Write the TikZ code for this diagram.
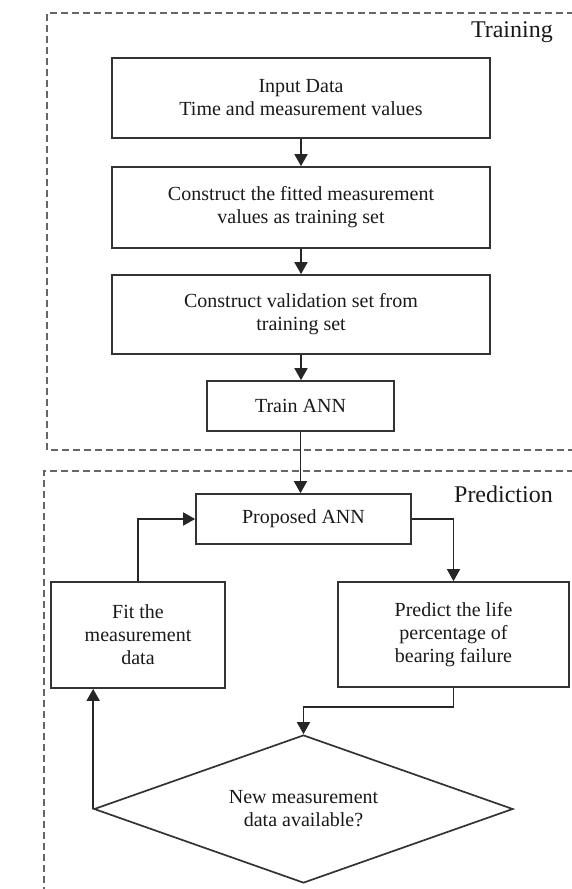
\documentclass[tikz,border=0pt]{standalone}
\usepackage{fontspec}
\setmainfont{Liberation Serif}
\usetikzlibrary{shapes.geometric,arrows.meta}
\begin{document}
\begin{tikzpicture}[x=1pt,y=-1pt,
  box/.style={draw=black!80,line width=1.7pt,align=center,inner sep=2pt,
    font=\fontsize{20}{23}\selectfont,text=black!90},
  frame/.style={draw=black!60,line width=1.1pt,dash pattern=on 7pt off 4pt},
  arr/.style={draw=black!85,line width=1.7pt,-{Triangle[length=12pt,width=13pt]}},
  lbl/.style={font=\fontsize{24}{28}\selectfont,text=black!90,inner sep=0pt}]
\useasboundingbox (0,0) rectangle (571,889);
% frames
\draw[frame] (585,13) -- (47,13) -- (47,450) -- (585,450);
\draw[frame] (585,471) -- (44,471) -- (44,900);
\node[lbl,anchor=base east] (tlab) at (553,37) {Training};
\node[lbl,anchor=base east] (plab) at (553,502) {Prediction};
% training nodes
\node[box,minimum width=378pt,minimum height=80pt] (in) at (301,98) {Input Data\\Time and measurement values};
\node[box,minimum width=378pt,minimum height=81pt] (fit) at (301,207.5) {Construct the fitted measurement\\values as training set};
\node[box,minimum width=378pt,minimum height=79pt] (val) at (301,314.5) {Construct validation set from\\training set};
\node[box,minimum width=187pt,minimum height=50pt] (train) at (300.5,406) {Train ANN};
% prediction nodes
\node[box,minimum width=215pt,minimum height=50pt] (prop) at (303.5,519) {Proposed ANN};
\node[box,minimum width=174pt,minimum height=106pt] (fitm) at (138,635) {Fit the\\measurement\\data};
\node[box,minimum width=231pt,minimum height=105pt] (pred) at (453.5,634.5) {Predict the life\\percentage of\\bearing failure};
\node[box,shape=diamond,aspect=2.83,inner sep=0pt,minimum width=419pt,minimum height=148pt] (dec) at (303.5,809) {New measurement\\data available?};
% connectors
\draw[arr] (in.south) -- (fit.north);
\draw[arr] (fit.south) -- (val.north);
\draw[arr] (val.south) -- (val.south |- train.north);
\draw[arr] (train.south) -- (train.south |- prop.north);
\draw[arr] (fitm.north) |- (prop.west);
\draw[arr] (prop.east) -| (pred.north);
\draw[arr] (pred.south) -- ++(0,19) -| (dec.north);
\draw[arr] (dec.west) -- (dec.west |- fitm.south);
\end{tikzpicture}
\end{document}
